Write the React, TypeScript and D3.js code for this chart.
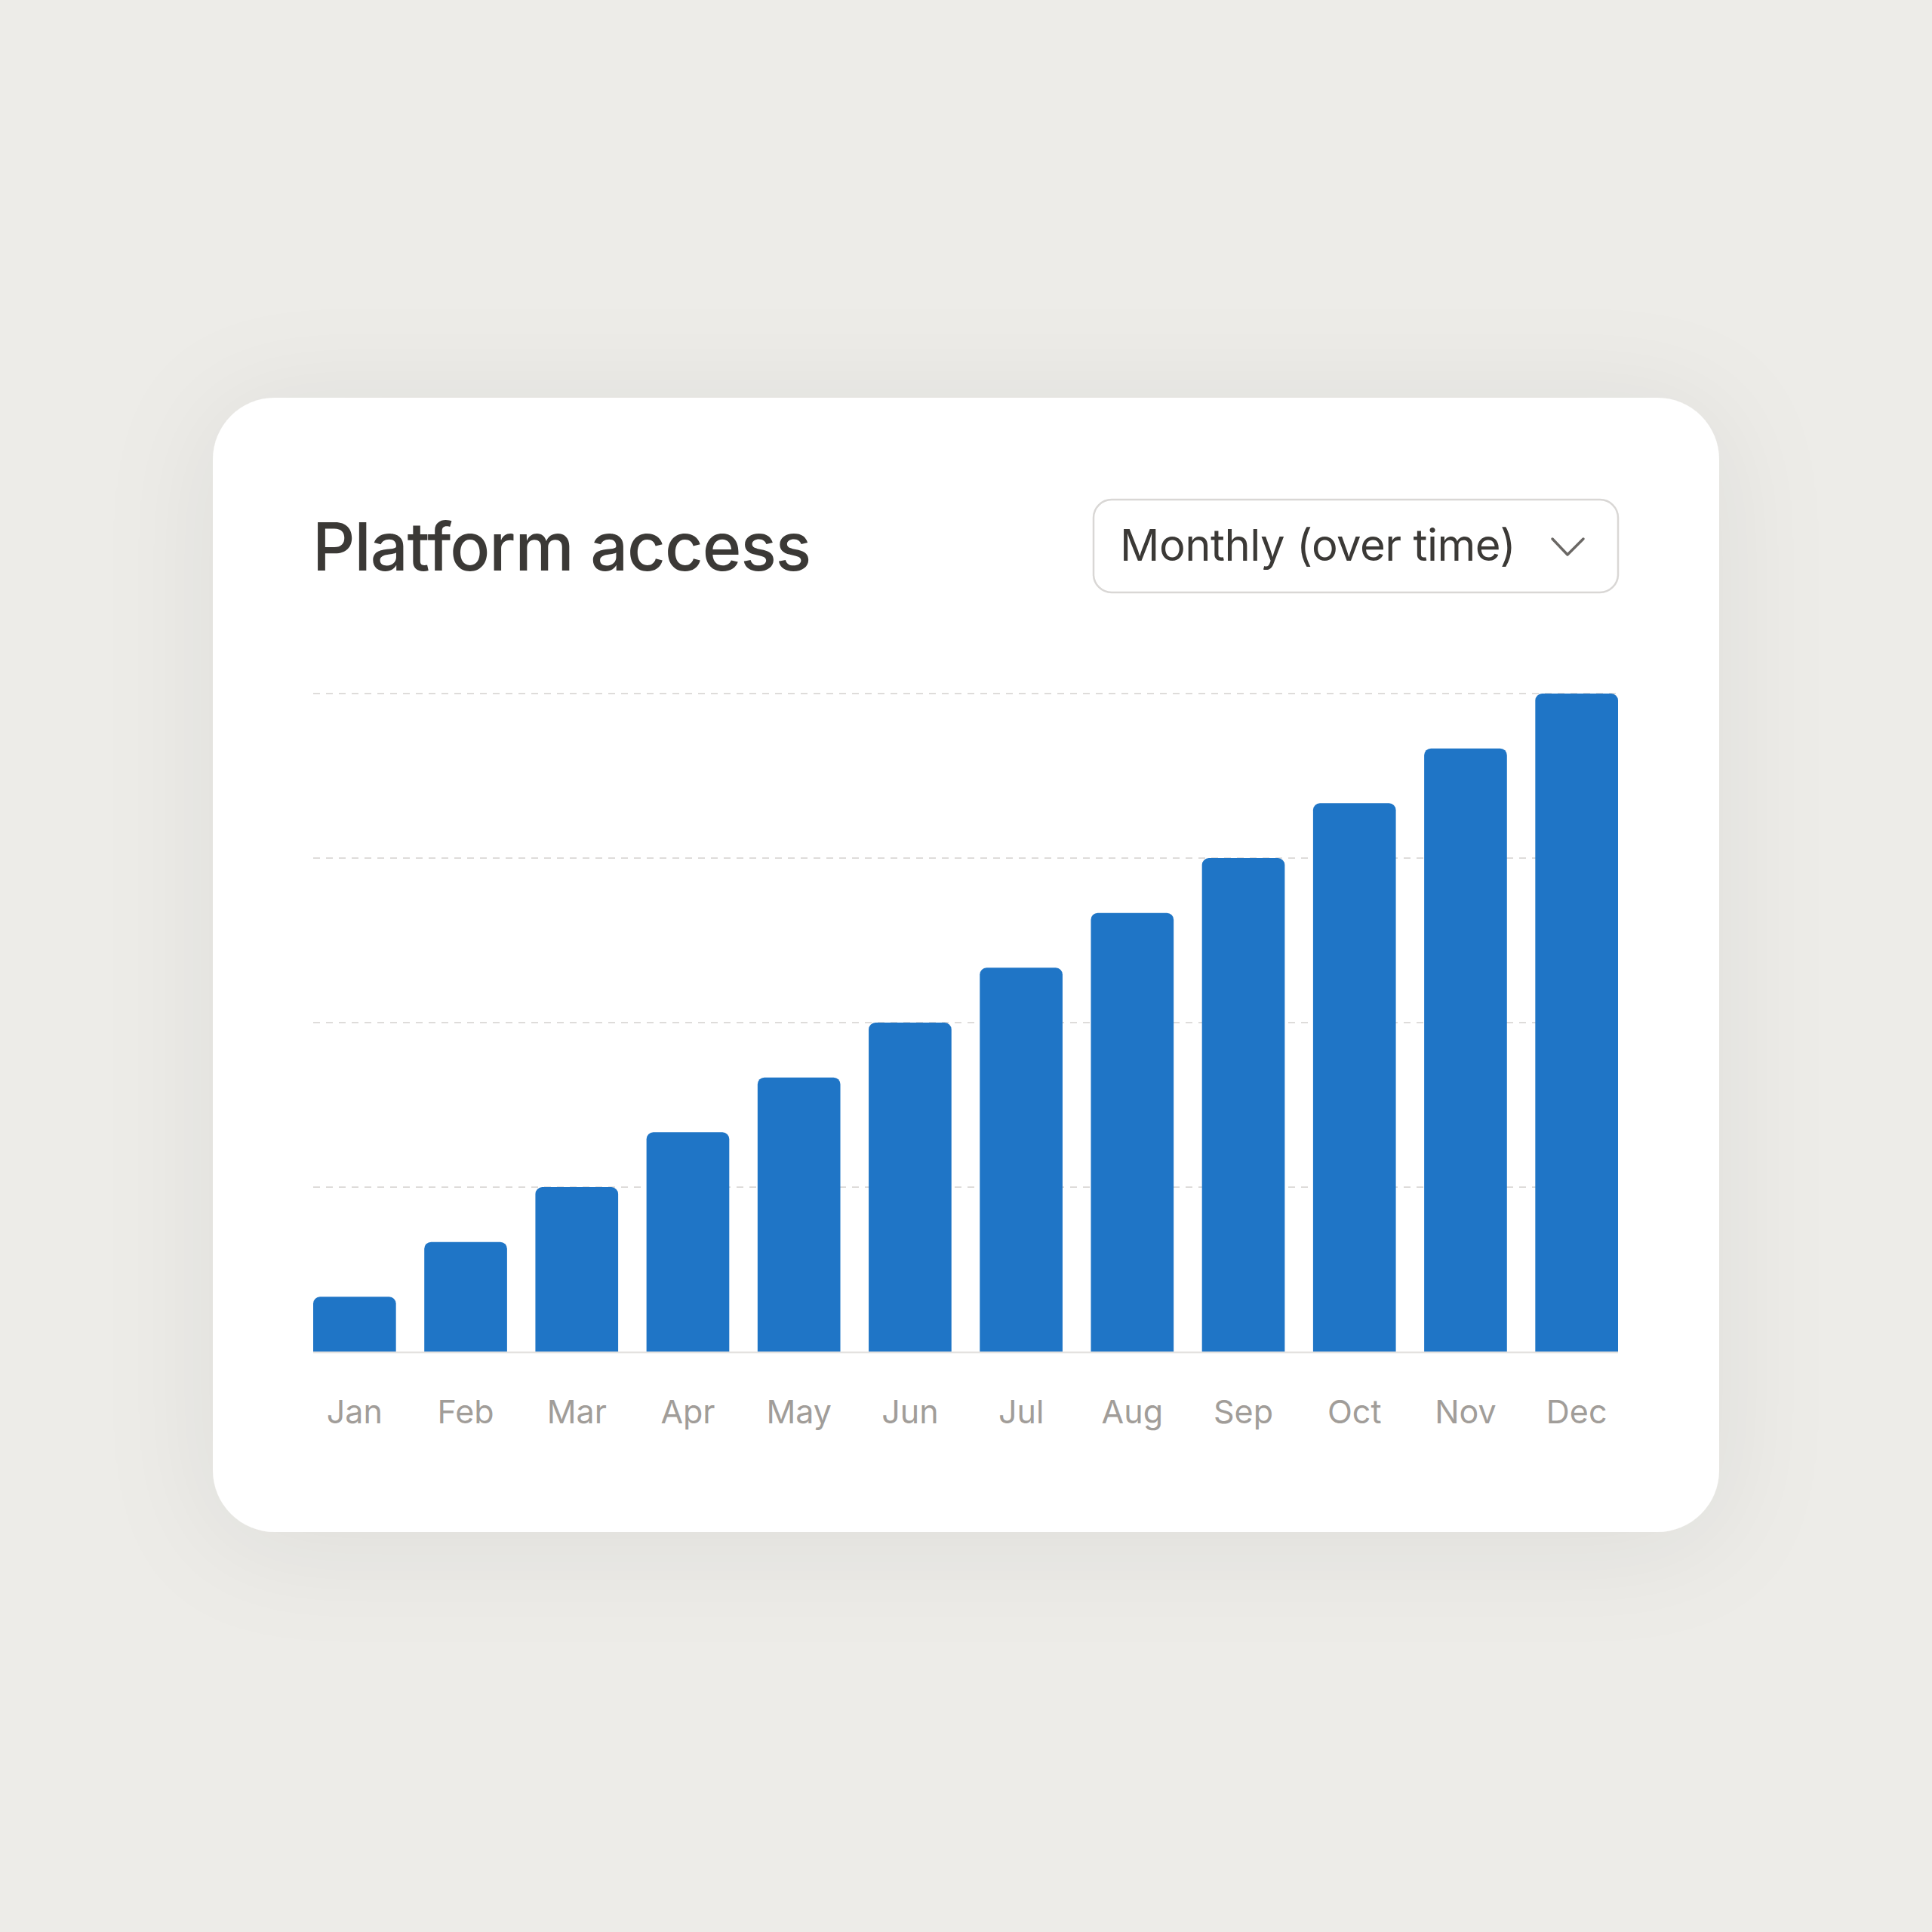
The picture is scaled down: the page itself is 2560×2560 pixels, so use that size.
import { useEffect, useRef } from 'react';
import * as d3 from 'd3';

const months = ['Jan', 'Feb', 'Mar', 'Apr', 'May', 'Jun', 'Jul', 'Aug', 'Sep', 'Oct', 'Nov', 'Dec'];
const accessCounts = [10, 20, 30, 40, 50, 60, 70, 80, 90, 100, 110, 120];
const gridValues = [30, 60, 90, 120];

const title = 'Platform access';
const periodLabel = 'Monthly (over time)';

const color = {
  page: '#edece8',
  card: '#ffffff',
  text: '#3b3936',
  muted: '#a19d99',
  grid: '#dedcda',
  bar: '#1f75c6',
  border: '#d9d7d5',
};

const font = 'Inter, "Open Sans", "DejaVu Sans", sans-serif';

export default function App() {
  const svgRef = useRef<SVGSVGElement>(null);

  useEffect(() => {
    if (!svgRef.current) return;
    const size = 2560;
    const svg = d3.select(svgRef.current);
    svg.selectAll('*').remove();
    svg.attr('width', size).attr('height', size);

    svg.append('rect').attr('width', size).attr('height', size).attr('fill', color.page);

    const defs = svg.append('defs');
    const f = defs.append('filter').attr('id', 'cardShadow')
      .attr('x', '-25%').attr('y', '-25%').attr('width', '150%').attr('height', '150%');
    f.append('feDropShadow')
      .attr('dx', 0).attr('dy', 14)
      .attr('stdDeviation', 75)
      .attr('flood-color', '#000')
      .attr('flood-opacity', 0.07);

    // card
    const card = { x: 282, y: 527, w: 1996, h: 1503, r: 82 };
    svg.append('rect')
      .attr('x', card.x).attr('y', card.y)
      .attr('width', card.w).attr('height', card.h)
      .attr('rx', card.r)
      .attr('fill', color.card)
      .attr('filter', 'url(#cardShadow)');

    // header
    svg.append('text')
      .attr('x', 414).attr('y', 756)
      .attr('font-family', font)
      .attr('font-size', 88)
      .attr('font-weight', 500)
      .attr('letter-spacing', -1)
      .attr('fill', color.text)
      .text(title);

    // dropdown
    const dd = { x: 1449, y: 662, w: 695, h: 123 };
    svg.append('rect')
      .attr('x', dd.x).attr('y', dd.y)
      .attr('width', dd.w).attr('height', dd.h)
      .attr('rx', 24)
      .attr('fill', '#fff')
      .attr('stroke', color.border)
      .attr('stroke-width', 2.5);
    svg.append('text')
      .attr('x', dd.x + 35).attr('y', 743)
      .attr('font-family', font)
      .attr('font-size', 58)
      .attr('letter-spacing', -0.5)
      .attr('fill', color.text)
      .text(periodLabel);
    svg.append('path')
      .attr('d', `M${2057},${714} L${2077},${735} L${2098},${714}`)
      .attr('fill', 'none')
      .attr('stroke', '#6b6865')
      .attr('stroke-width', 3.5)
      .attr('stroke-linecap', 'round')
      .attr('stroke-linejoin', 'round');

    // plot
    const plot = { left: 415, right: 2144, top: 919, bottom: 1791 };
    const x = d3.scaleBand<string>()
      .domain(months)
      .range([plot.left, plot.right])
      .paddingInner(0.255)
      .paddingOuter(0);
    const y = d3.scaleLinear()
      .domain([0, d3.max(gridValues) ?? 120])
      .range([plot.bottom, plot.top]);

    const g = svg.append('g');

    g.selectAll('line.grid')
      .data(gridValues)
      .join('line')
      .attr('class', 'grid')
      .attr('x1', plot.left).attr('x2', plot.right)
      .attr('y1', (d) => y(d)).attr('y2', (d) => y(d))
      .attr('stroke', color.grid)
      .attr('stroke-width', 2)
      .attr('stroke-dasharray', '9 8');

    const bw = x.bandwidth();
    const r = 9;
    const barPath = (x0: number, y0: number, w: number, y1: number) => {
      const p = d3.path();
      p.moveTo(x0, y1);
      p.lineTo(x0, y0 + r);
      p.arcTo(x0, y0, x0 + r, y0, r);
      p.lineTo(x0 + w - r, y0);
      p.arcTo(x0 + w, y0, x0 + w, y0 + r, r);
      p.lineTo(x0 + w, y1);
      p.closePath();
      return p.toString();
    };

    g.selectAll('path.bar')
      .data(accessCounts)
      .join('path')
      .attr('class', 'bar')
      .attr('d', (d, i) => barPath(x(months[i]) ?? 0, y(d), bw, y(0)))
      .attr('fill', color.bar);

    // baseline
    g.append('line')
      .attr('x1', plot.left).attr('x2', plot.right)
      .attr('y1', plot.bottom + 1).attr('y2', plot.bottom + 1)
      .attr('stroke', '#e4e2e0')
      .attr('stroke-width', 2.5);

    // month labels
    g.selectAll('text.month')
      .data(months)
      .join('text')
      .attr('class', 'month')
      .attr('x', (d) => (x(d) ?? 0) + bw / 2)
      .attr('y', 1886)
      .attr('text-anchor', 'middle')
      .attr('font-family', font)
      .attr('font-size', 43)
      .attr('fill', color.muted)
      .text((d) => d);
  }, []);

  return (
    <div style={{ position: 'absolute', left: 0, top: 0, width: 2560, height: 2560 }}>
      <svg ref={svgRef} style={{ display: 'block' }} />
    </div>
  );
}
